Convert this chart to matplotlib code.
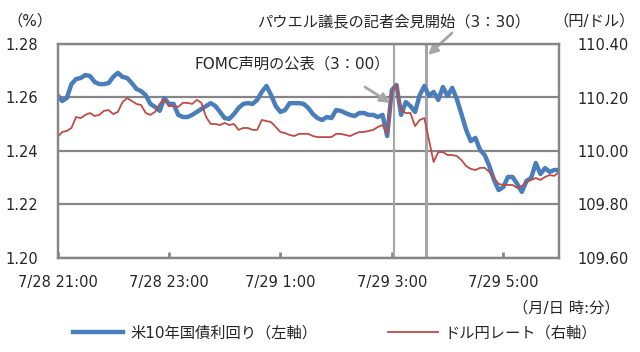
import numpy as np
import matplotlib
matplotlib.use("Agg")
import matplotlib.pyplot as plt

plt.rcParams['font.family'] = ['DejaVu Sans', 'Noto Sans CJK JP']

# minutes after 7/28 21:00, one point every 5 minutes up to 7/29 6:00
minutes = np.arange(0, 545, 5)

# US 10y yield (%), left axis
yield_10y = [
    1.2609, 1.2587, 1.2598, 1.2650, 1.2669, 1.2673, 1.2684, 1.2680, 1.2658, 1.2650,
    1.2650, 1.2654, 1.2677, 1.2692, 1.2677, 1.2673, 1.2654, 1.2632, 1.2624, 1.2609,
    1.2576, 1.2565, 1.2550, 1.2598, 1.2576, 1.2576, 1.2535, 1.2527, 1.2527, 1.2535,
    1.2546, 1.2557, 1.2568, 1.2579, 1.2568, 1.2546, 1.2523, 1.2520, 1.2538, 1.2561,
    1.2576, 1.2579, 1.2576, 1.2591, 1.2621, 1.2643, 1.2609, 1.2568, 1.2546, 1.2553,
    1.2579, 1.2579, 1.2579, 1.2576, 1.2561, 1.2538, 1.2523, 1.2516, 1.2527, 1.2523,
    1.2553, 1.2550, 1.2542, 1.2535, 1.2531, 1.2542, 1.2542, 1.2535, 1.2535, 1.2527,
    1.2535, 1.2456, 1.2628, 1.2647, 1.2535, 1.2583, 1.2568, 1.2546, 1.2609, 1.2643,
    1.2606, 1.2621, 1.2591, 1.2639, 1.2606, 1.2636, 1.2594, 1.2538, 1.2479, 1.2437,
    1.2449, 1.2404, 1.2385, 1.2344, 1.2292, 1.2254, 1.2265, 1.2303, 1.2303, 1.2277,
    1.2247, 1.2288, 1.2299, 1.2355, 1.2314, 1.2336, 1.2322, 1.2329, 1.2329,
]

# USD/JPY (yen per dollar), right axis
usd_jpy = [
    110.052, 110.071, 110.075, 110.086, 110.127, 110.123, 110.135, 110.142, 110.131, 110.135,
    110.150, 110.153, 110.138, 110.146, 110.183, 110.198, 110.187, 110.176, 110.172, 110.142,
    110.135, 110.146, 110.176, 110.194, 110.168, 110.168, 110.165, 110.180, 110.180, 110.176,
    110.191, 110.180, 110.127, 110.101, 110.101, 110.097, 110.105, 110.097, 110.101, 110.079,
    110.086, 110.086, 110.079, 110.079, 110.116, 110.112, 110.108, 110.090, 110.071, 110.067,
    110.060, 110.056, 110.064, 110.064, 110.064, 110.056, 110.052, 110.052, 110.052, 110.052,
    110.064, 110.064, 110.060, 110.056, 110.064, 110.071, 110.071, 110.075, 110.079, 110.090,
    110.097, 110.064, 110.221, 110.247, 110.153, 110.142, 110.142, 110.093, 110.116, 110.123,
    110.041, 109.959, 109.996, 109.996, 109.985, 109.985, 109.981, 109.966, 109.944, 109.933,
    109.929, 109.937, 109.937, 109.922, 109.899, 109.877, 109.873, 109.873, 109.873, 109.862,
    109.869, 109.884, 109.892, 109.899, 109.892, 109.903, 109.910, 109.907, 109.922,
]

x_ticks = [0, 120, 240, 360, 480]
x_labels = ["7/28 21:00", "7/28 23:00", "7/29 1:00", "7/29 3:00", "7/29 5:00"]
left_ticks = [1.20, 1.22, 1.24, 1.26, 1.28]
right_ticks = [109.60, 109.80, 110.00, 110.20, 110.40]

# event markers (minutes after 21:00)
fomc_min = 362
press_min = 397

BLUE = "#4A7EBB"
RED = "#BE4B48"
GRID = "#868686"
VLINE = "#A6A6A6"
TEXT = "#262626"
FS = 11
TICK_FS = 10.5

fig = plt.figure(figsize=(6.4, 3.52), dpi=100)
ax = fig.add_axes([57.5 / 640, 1 - 258 / 352, (559 - 57.5) / 640, (258 - 44) / 352])
ax2 = ax.twinx()

ax.axvline(fomc_min, color=VLINE, lw=1.5, zorder=1.5)
ax.axvline(press_min, color=VLINE, lw=2.2, zorder=1.5)

l1, = ax.plot(minutes, yield_10y, color=BLUE, lw=3.2, zorder=2,
              solid_joinstyle="round", label="米10年国債利回り（左軸）")
l2, = ax2.plot(minutes, usd_jpy, color=RED, lw=1.3, zorder=2,
               label="ドル円レート（右軸）")

ax.set_xlim(0, 540)
ax.set_ylim(1.20, 1.28)
ax2.set_ylim(109.60, 110.40)

ax.set_yticks(left_ticks)
ax.set_yticklabels([f"{v:.2f}" for v in left_ticks])
ax2.set_yticks(right_ticks)
ax2.set_yticklabels([f"{v:.2f}" for v in right_ticks])
ax.set_xticks(x_ticks)
ax.set_xticklabels(x_labels)

ax.grid(axis="y", color=GRID, lw=1.6, zorder=1)
ax.set_axisbelow(True)
ax.tick_params(axis="y", length=0, pad=14, labelsize=TICK_FS, labelcolor=TEXT)
ax2.tick_params(axis="y", length=0, pad=13, labelsize=TICK_FS, labelcolor=TEXT)
ax.tick_params(axis="x", direction="in", length=4, width=2, color=GRID,
               pad=12, labelsize=TICK_FS, labelcolor=TEXT)
for a in (ax, ax2):
    for sp in a.spines.values():
        sp.set_color(GRID)
        sp.set_linewidth(1.6)

# axis unit labels
fig.text(30 / 640, 1 - 21 / 352, "（%）", fontsize=FS, color=TEXT, ha="center", va="center")
fig.text(594 / 640, 1 - 21 / 352, "（円/ドル）", fontsize=FS, color=TEXT, ha="center", va="center")
fig.text(620 / 640, 1 - 308 / 352, "（月/日 時:分）", fontsize=FS, color=TEXT, ha="right", va="center")

# event annotations
fig.text(195 / 640, 1 - 64 / 352, "FOMC声明の公表（3：00）", fontsize=FS, color=TEXT, va="center")
fig.text(257 / 640, 1 - 22 / 352, "パウエル議長の記者会見開始（3：30）", fontsize=FS, color=TEXT, va="center")
arrow = dict(arrowstyle="-|>", color=VLINE, lw=2, mutation_scale=14, shrinkA=0, shrinkB=0)
ax.annotate("", xy=(358, 1.258), xycoords="data",
            xytext=(365 / 640, 1 - 87 / 352), textcoords="figure fraction", arrowprops=arrow)
ax.annotate("", xy=(399, 1.2759), xycoords="data",
            xytext=(452 / 640, 1 - 33 / 352), textcoords="figure fraction", arrowprops=arrow,
            annotation_clip=False)

fig.legend(handles=[l1, l2], loc="center left", bbox_to_anchor=(73 / 640, 1 - 333 / 352),
           ncol=2, frameon=False, fontsize=FS, handlelength=3.3, handletextpad=0.45,
           columnspacing=4.6, borderpad=0, borderaxespad=0, labelcolor=TEXT)

fig.savefig("out.png", dpi=100)
